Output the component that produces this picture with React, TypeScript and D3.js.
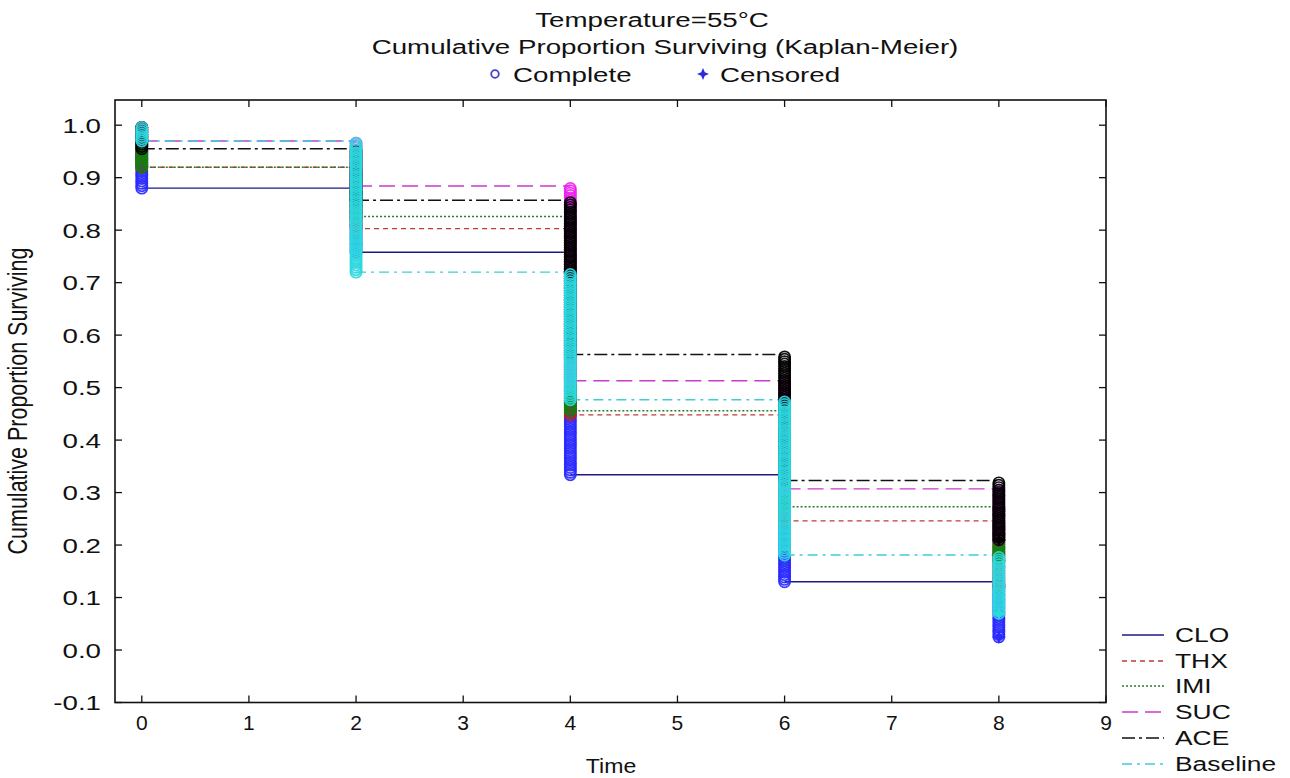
import React from "react";
import * as d3 from "d3";

// Kaplan-Meier survival levels reached at each event time (after the deaths at that time)
const times = [0, 2, 4, 6, 8];
const seriesNames = ["CLO", "THX", "IMI", "SUC", "ACE", "Baseline"];
const cloSurvival = [0.88, 0.758, 0.334, 0.13, 0.025];
const thxSurvival = [0.92, 0.803, 0.448, 0.246, 0.12];
const imiSurvival = [0.92, 0.826, 0.456, 0.273, 0.17];
const sucSurvival = [0.97, 0.884, 0.513, 0.307, 0.21];
const aceSurvival = [0.955, 0.857, 0.563, 0.323, 0.21];
const baselineSurvival = [0.97, 0.72, 0.477, 0.181, 0.07];
const groupSize = 220;

const xTicks = [0, 1, 2, 3, 4, 5, 6, 7, 8, 9];
const yTicks = [-0.1, 0, 0.1, 0.2, 0.3, 0.4, 0.5, 0.6, 0.7, 0.8, 0.9, 1.0];

const lineColors = ["#1a1a80", "#c03a3a", "#2a7d2a", "#cc3acc", "#111111", "#3ccfd6"];
const markerColors = ["#2a2aff", "#b81e1e", "#108010", "#f020f0", "#000000", "#2ed8e0"];
const dashes = ["none", "5,4", "2,2", "16,7", "13,4,3,4", "10,5,3,5"];

const allSurvival = [cloSurvival, thxSurvival, imiSurvival, sucSurvival, aceSurvival, baselineSurvival];

const W = 1290;
const H = 778;
const SX = 1.32; // horizontal glyph stretch

const x = d3.scaleLinear().domain([-0.25, 9]).range([115, 1106]);
const y = d3.scaleLinear().domain([-0.1, 1.048]).range([702.5, 100]);
const fmt = (v: number) => d3.format(".1f")(v).replace("−", "-");

function SText(props: {
  x: number;
  y: number;
  anchor?: "start" | "middle" | "end";
  size?: number;
  sx?: number;
  children: React.ReactNode;
}) {
  const { anchor = "start", size = 21, sx = SX } = props;
  return (
    <text
      transform={`translate(${props.x},${props.y}) scale(${sx},1)`}
      textAnchor={anchor}
      fontSize={size}
      fontFamily="Arial, 'Liberation Sans', sans-serif"
      fill="#111"
    >
      {props.children}
    </text>
  );
}

function starPath(cx: number, cy: number, r: number) {
  const w = r * 0.3;
  const p = d3.path();
  p.moveTo(cx, cy - r);
  p.lineTo(cx + w, cy - w);
  p.lineTo(cx + r, cy);
  p.lineTo(cx + w, cy + w);
  p.lineTo(cx, cy + r);
  p.lineTo(cx - w, cy + w);
  p.lineTo(cx - r, cy);
  p.lineTo(cx - w, cy - w);
  p.closePath();
  return p.toString();
}

export default function App() {
  const stepLines = allSurvival.map((vals, si) => {
    const segs = vals.slice(0, times.length - 1).map((v, i) => ({
      x1: x(times[i]),
      x2: x(times[i + 1]),
      y: y(v),
    }));
    return { si, segs };
  });

  // one hollow circle per death, stacked down the drop at each event time,
  // followed by the censored cases at the last time
  const markGroups = allSurvival.map((vals, si) => {
    const pts: { cx: number; cy: number }[] = [];
    vals.forEach((v, i) => {
      const start = i === 0 ? 1 : vals[i - 1];
      const count = Math.max(1, Math.round((start - v) * groupSize));
      for (let k = 1; k <= count; k++) {
        const s = start - (k * (start - v)) / count;
        pts.push({ cx: x(times[i]), cy: y(s) });
      }
    });
    const cens = { cx: x(times[times.length - 1]), cy: y(vals[vals.length - 1]) };
    return { si, pts, cens };
  });

  const legendRows = [635, 661, 686, 712, 738, 764];

  return (
    <svg width={W} height={H} style={{ position: "absolute", left: 0, top: 0, background: "#fff" }}>
      <rect x={0} y={0} width={W} height={H} fill="#fff" />

      {/* titles */}
      <SText x={652} y={27} anchor="middle">Temperature=55°C</SText>
      <SText x={665} y={54} anchor="middle">Cumulative Proportion Surviving (Kaplan-Meier)</SText>
      <circle cx={495} cy={74} r={3.8} fill="none" stroke="#4040c8" strokeWidth={1.8} />
      <SText x={513} y={82}>Complete</SText>
      <path d={starPath(703, 74, 6)} fill="#2a2ad8" />
      <SText x={720} y={82}>Censored</SText>

      {/* step lines */}
      {stepLines.map(({ si, segs }) =>
        segs.map((s, i) => (
          <line
            key={`l${si}-${i}`}
            x1={s.x1}
            x2={s.x2}
            y1={s.y}
            y2={s.y}
            stroke={lineColors[si]}
            strokeWidth={1.4}
            strokeDasharray={dashes[si]}
          />
        ))
      )}

      {/* death and censored markers, series by series */}
      {markGroups.map(({ si, pts, cens }) => (
        <g key={`m${si}`}>
          {pts.map((p, i) => (
            <circle
              key={`c${si}-${i}`}
              cx={p.cx}
              cy={p.cy}
              r={5.6}
              fill="none"
              stroke={markerColors[si]}
              strokeWidth={1.7}
              strokeOpacity={0.92}
            />
          ))}
          <path d={starPath(cens.cx, cens.cy, 7)} fill={markerColors[si]} />
        </g>
      ))}

      {/* frame */}
      <rect x={115} y={100} width={991} height={602.5} fill="none" stroke="#111" strokeWidth={1.6} />
      {yTicks.map((t) => (
        <g key={`yt${t}`}>
          <line x1={115} x2={122} y1={y(t)} y2={y(t)} stroke="#111" strokeWidth={1.3} />
          <line x1={1106} x2={1099} y1={y(t)} y2={y(t)} stroke="#111" strokeWidth={1.3} />
          <SText x={101} y={y(t) + 7.5} anchor="end">{fmt(t)}</SText>
        </g>
      ))}
      {xTicks.map((t) => (
        <g key={`xt${t}`}>
          <line x1={x(t)} x2={x(t)} y1={702.5} y2={695.5} stroke="#111" strokeWidth={1.3} />
          <line x1={x(t)} x2={x(t)} y1={100} y2={107} stroke="#111" strokeWidth={1.3} />
          <SText x={x(t)} y={730} anchor="middle" sx={1}>{String(t)}</SText>
        </g>
      ))}

      {/* axis titles */}
      <SText x={611} y={773} anchor="middle" sx={1.1} size={21}>Time</SText>
      <text
        transform={`translate(27,401) scale(${SX},1) rotate(-90)`}
        textAnchor="middle"
        fontSize={21.5}
        fontFamily="Arial, 'Liberation Sans', sans-serif"
        fill="#111"
      >
        Cumulative Proportion Surviving
      </text>

      {/* series legend */}
      {seriesNames.map((n, i) => (
        <g key={`lg${n}`}>
          <line
            x1={1122}
            x2={1164}
            y1={legendRows[i]}
            y2={legendRows[i]}
            stroke={lineColors[i]}
            strokeWidth={1.4}
            strokeDasharray={dashes[i]}
          />
          <SText x={1175} y={legendRows[i] + 7} size={20}>{n}</SText>
        </g>
      ))}
    </svg>
  );
}
